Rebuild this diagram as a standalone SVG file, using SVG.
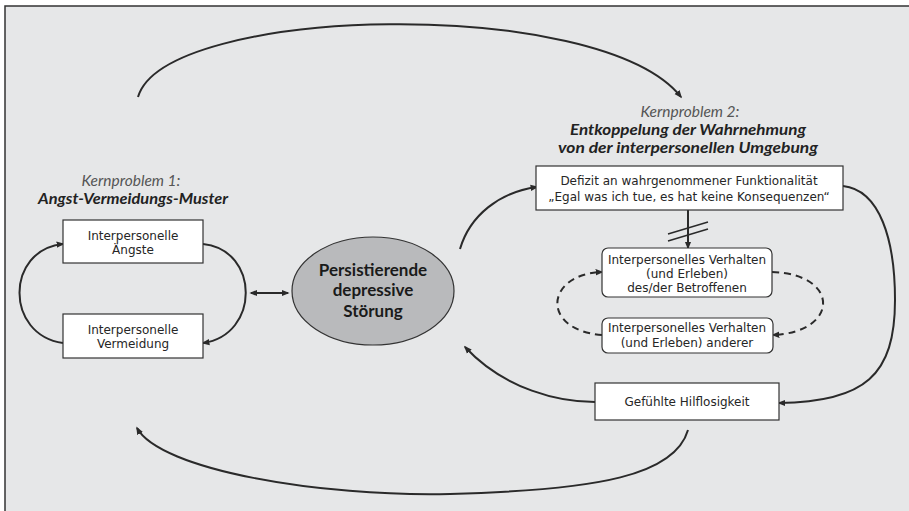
<svg xmlns="http://www.w3.org/2000/svg" width="909" height="511" viewBox="0 0 909 511">
<defs>
<style>
.t{text-anchor:middle;fill:#262626}
.box{font-family:"DejaVu Sans","Liberation Sans",sans-serif;font-size:12px}
.it{font-family:Lato,"Open Sans",sans-serif;font-style:italic;font-size:15.5px;fill:#555}
.bi{font-family:Lato,"Open Sans",sans-serif;font-style:italic;font-weight:bold;font-size:15px;fill:#222}
.el{font-family:Lato,"Open Sans",sans-serif;font-weight:bold;font-size:17px;fill:#1a1a1a}
.rect{fill:#fff;stroke:#333;stroke-width:1.2}
.c{fill:none;stroke:#2a2a2a;stroke-width:2}
.d{fill:none;stroke:#2a2a2a;stroke-width:2;stroke-dasharray:7 5}
</style>
<marker id="a" viewBox="0 0 10 10" refX="8" refY="5" markerWidth="4" markerHeight="4" orient="auto-start-reverse" markerUnits="strokeWidth">
<path d="M0,1 L10,5 L0,9 Z" fill="#2a2a2a"/>
</marker>
</defs>
<rect x="0" y="0" width="909" height="511" fill="#fff"/>
<rect x="5" y="6" width="904" height="505" fill="#e6e7e8"/>
<path d="M5,511 V6 H909" fill="none" stroke="#333" stroke-width="1.5"/>

<g id="connectors">
<path class="c" d="M138,97 C165,5 600,-5 681,97" marker-end="url(#a)"/>
<path class="c" d="M63,343 C5,335 5,250 63,244" marker-end="url(#a)"/>
<path class="c" d="M203,244 C260,250 260,335 203,343" marker-end="url(#a)"/>
<path class="c" d="M251,293 H288" marker-start="url(#a)" marker-end="url(#a)"/>
<path class="c" d="M460,249 C470,215 500,192 537,187" marker-end="url(#a)"/>
<path class="c" d="M688,210 V248" marker-end="url(#a)"/>
<path d="M668,234 L708,222 M668,241 L708,229" stroke="#2a2a2a" stroke-width="1.5" fill="none"/>
<path class="d" d="M602,335 C540,330 545,274 602,272" marker-end="url(#a)"/>
<path class="d" d="M772,272 C840,274 840,332 773,335" marker-end="url(#a)"/>
<path class="c" d="M843,186 C880,190 895,240 895,300 C895,375 865,402 779,403" marker-end="url(#a)"/>
<path class="c" d="M595,402 C560,402 505,390 465,347" marker-end="url(#a)"/>
<path class="c" d="M688,430 C675,475 600,490 450,494 C320,497 160,470 137,428" marker-end="url(#a)"/>
</g>

<g id="kp1">
<text class="t it" x="131" y="186">Kernproblem 1:</text>
<text class="t bi" x="133" y="204" textLength="190" lengthAdjust="spacingAndGlyphs">Angst-Vermeidungs-Muster</text>
</g>
<g id="angste">
<rect class="rect" x="63" y="220" width="140" height="43"/>
<text class="t box" x="133" y="240">Interpersonelle</text>
<text class="t box" x="133" y="254">Ängste</text>
</g>
<g id="vermeidung">
<rect class="rect" x="63" y="314" width="140" height="44"/>
<text class="t box" x="133" y="334">Interpersonelle</text>
<text class="t box" x="133" y="348">Vermeidung</text>
</g>
<g id="pds">
<ellipse cx="373" cy="291" rx="81" ry="54" fill="#b9babc" stroke="#333" stroke-width="1.2"/>
<text class="t el" x="373" y="275.5">Persistierende</text>
<text class="t el" x="373" y="296">depressive</text>
<text class="t el" x="373" y="316.5">Störung</text>
</g>
<g id="kp2">
<text class="t it" x="690" y="117">Kernproblem 2:</text>
<text class="t bi" x="688" y="135" textLength="236" lengthAdjust="spacingAndGlyphs">Entkoppelung der Wahrnehmung</text>
<text class="t bi" x="688" y="153" textLength="260" lengthAdjust="spacingAndGlyphs">von der interpersonellen Umgebung</text>
</g>
<g id="defizit">
<rect class="rect" x="536" y="166" width="307" height="44"/>
<text class="t box" x="689" y="185">Defizit an wahrgenommener Funktionalität</text>
<text class="t box" x="689" y="201">„Egal was ich tue, es hat keine Konsequenzen“</text>
</g>
<g id="betroffene">
<rect class="rect" x="602" y="248" width="170" height="49" rx="6"/>
<text class="t box" x="687" y="264">Interpersonelles Verhalten</text>
<text class="t box" x="687" y="278">(und Erleben)</text>
<text class="t box" x="687" y="292">des/der Betroffenen</text>
</g>
<g id="andere">
<rect class="rect" x="602" y="318" width="171" height="35" rx="6"/>
<text class="t box" x="687" y="332">Interpersonelles Verhalten</text>
<text class="t box" x="687" y="347">(und Erleben) anderer</text>
</g>
<g id="hilflos">
<rect class="rect" x="595" y="383" width="184" height="37"/>
<text class="t box" x="687" y="406">Gefühlte Hilflosigkeit</text>
</g>
</svg>
